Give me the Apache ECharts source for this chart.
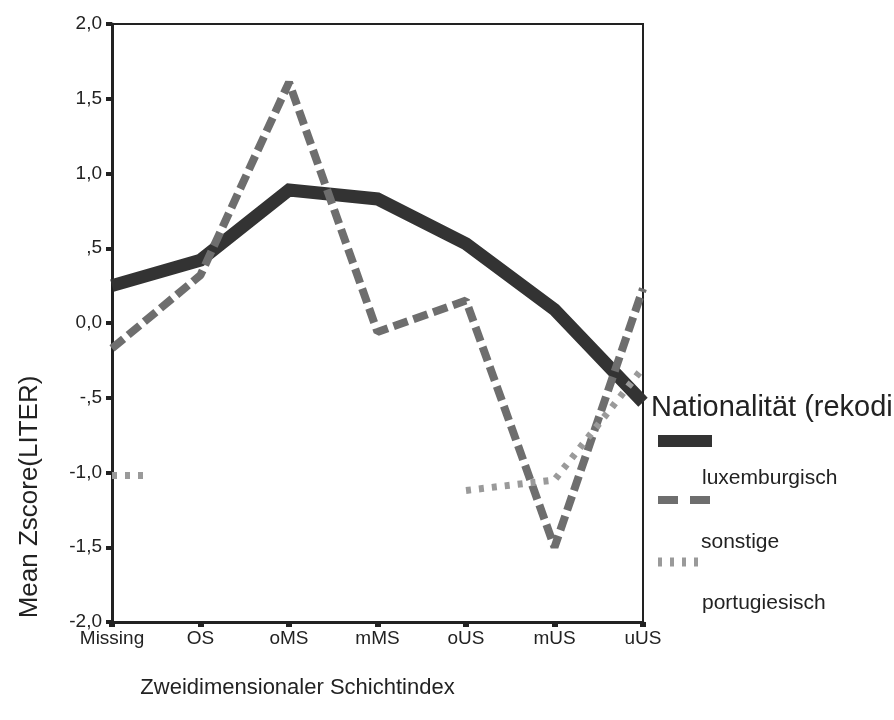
<!DOCTYPE html>
<html>
<head>
<meta charset="utf-8">
<script src="https://cdn.jsdelivr.net/npm/echarts@6/dist/echarts.min.js"></script>
<style>
  html, body { margin: 0; padding: 0; background: #fff; }
  #chart { width: 894px; height: 720px; }
</style>
</head>
<body>
<div id="chart"></div>
<script>
// 범주 (x축)
var categories = ['Missing', 'OS', 'oMS', 'mMS', 'oUS', 'mUS', 'uUS'];
// 시리즈 이름
var seriesNames = ['luxemburgisch', 'sonstige', 'portugiesisch'];
// 값 (Mean Zscore)
var luxVals = [0.25, 0.42, 0.89, 0.83, 0.53, 0.09, -0.53];
var sonVals = [-0.17, 0.32, 1.61, -0.06, 0.15, -1.50, 0.23];
var porVals = [-1.02, null, null, null, -1.12, -1.05, -0.30];
// y축 눈금 라벨
var yTickValues = [-2, -1.5, -1, -0.5, 0, 0.5, 1, 1.5, 2];
var yTickLabels = ['-2,0', '-1,5', '-1,0', '-,5', '0,0', ',5', '1,0', '1,5', '2,0'];

var dom = document.getElementById('chart');
var myChart = echarts.init(dom, null, {renderer: 'canvas', useDirtyRect: false});
var font = 'Liberation Sans, Arial, sans-serif';
var colors = ['#333333', '#6e6e6e', '#9a9a9a'];

// 범례 아이콘 (선 모양)
var legendIcons = [
  'rect',
  'path://M0,0H20V8H0Z M32,0H52V8H32Z',
  'path://M0,0H4V9H0Z M12,0H16V9H12Z M24,0H28V9H24Z M36,0H40V9H36Z'
];
var legendSizes = [[54, 12], [54, 8], [40, 9]];
var legendGaps = [74, 84, 82];     // 아이콘 ~ 글자 간격
var legendTops = [387, 441, 504];  // 아이콘 중심 - 5 - (gap+24)/2

// 범례: 항목마다 따로, 글자는 아이콘 아래
function makeLegend(i) {
  return {
    data: [{name: seriesNames[i], icon: legendIcons[i]}],
    orient: 'vertical',
    left: 653,
    top: legendTops[i],
    itemWidth: legendSizes[i][0],
    itemHeight: legendSizes[i][1],
    selectedMode: false,
    formatter: function (name) {
      return '{g|}\n{t|' + name + '}';
    },
    textStyle: {
      rich: {
        g: {height: legendGaps[i], lineHeight: legendGaps[i]},
        t: {fontFamily: font, fontSize: 21, color: '#222', lineHeight: 24,
            padding: [0, 0, 0, 39 - legendSizes[i][0]]}
      }
    }
  };
}

var option = {
  animation: false,
  backgroundColor: '#fff',
  title: {
    text: 'Nationalität (rekodiert)',
    left: 646,
    top: 388,
    textStyle: {fontFamily: font, fontSize: 29, fontWeight: 'normal', color: '#222'}
  },
  legend: [makeLegend(0), makeLegend(1), makeLegend(2)],
  grid: {
    left: 112,
    right: 251,
    top: 24,
    bottom: 98,
    show: true,
    borderColor: '#222',
    borderWidth: 2
  },
  xAxis: {
    type: 'category',
    data: categories,
    boundaryGap: false,
    name: 'Zweidimensionaler Schichtindex',
    nameLocation: 'middle',
    nameGap: 55,
    nameTextStyle: {fontFamily: font, fontSize: 22, color: '#222', padding: [0, 160, 0, 0]},
    axisLine: {onZero: false, lineStyle: {color: '#222', width: 3}},
    axisTick: {show: true, length: 5, lineStyle: {color: '#222', width: 6}},
    axisLabel: {fontFamily: font, fontSize: 19, color: '#222', margin: 7}
  },
  yAxis: {
    type: 'value',
    min: -2,
    max: 2,
    interval: 0.5,
    name: 'Mean Zscore(LITER)',
    nameLocation: 'middle',
    nameGap: 69,
    nameTextStyle: {fontFamily: font, fontSize: 26, color: '#222', padding: [0, 348, 0, 0]},
    splitLine: {show: false},
    axisLine: {show: true, lineStyle: {color: '#222', width: 3}},
    axisTick: {show: true, length: 6, lineStyle: {color: '#222', width: 4}},
    axisLabel: {
      fontFamily: font, fontSize: 19, color: '#222', margin: 10,
      formatter: function (v) {
        var i = yTickValues.indexOf(v);
        return i >= 0 ? yTickLabels[i] : '';
      }
    }
  },
  series: [{
      name: seriesNames[0],
      type: 'line',
      data: luxVals,
      symbol: 'none',
      lineStyle: {color: colors[0], width: 13, join: 'miter'},
      itemStyle: {color: colors[0]}
    },
    {
      name: seriesNames[1],
      type: 'line',
      data: sonVals,
      symbol: 'none',
      lineStyle: {color: colors[1], width: 8, type: [15, 6]},
      itemStyle: {color: colors[1]}
    },
    {
      name: seriesNames[2],
      type: 'line',
      data: porVals,
      symbol: 'none',
      connectNulls: false,
      lineStyle: {color: colors[2], width: 7, type: [5, 8]},
      itemStyle: {color: colors[2]},
      // Missing 값은 짧은 조각으로만 보임
      markLine: {
        silent: true,
        symbol: 'none',
        label: {show: false},
        lineStyle: {color: colors[2], width: 7, type: [5, 8]},
        data: [[{coord: [categories[0], porVals[0]]}, {coord: [categories[0], porVals[0]], x: 150}]]
      }
    }
  ]
};

if (option && typeof option === 'object') {
  myChart.setOption(option);
}
window.addEventListener('resize', myChart.resize);
</script>
</body>
</html>
